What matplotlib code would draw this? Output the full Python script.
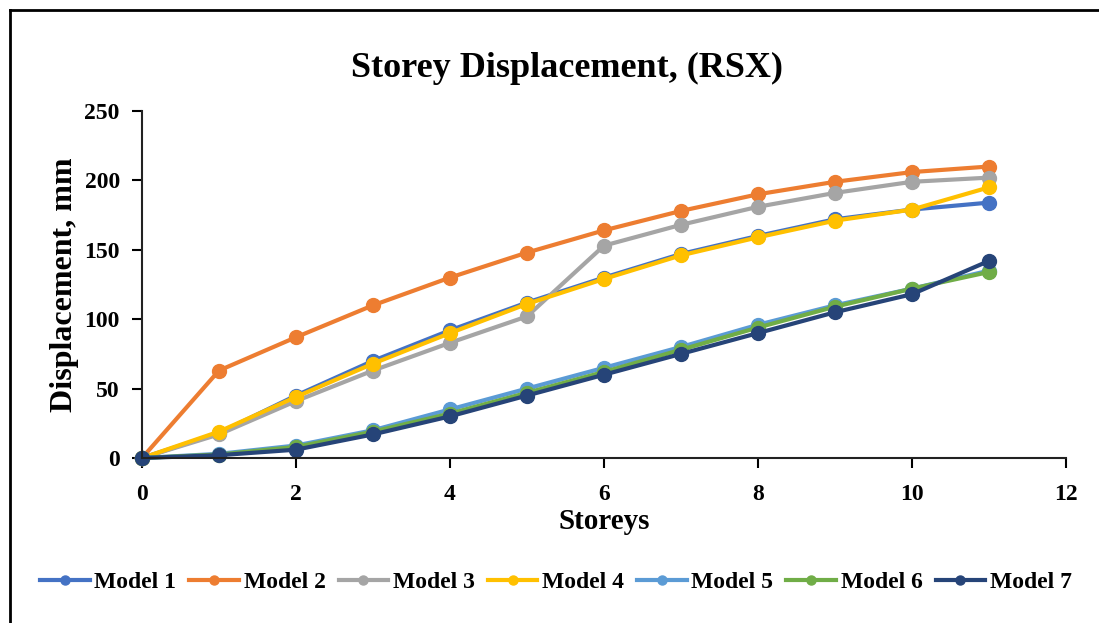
import matplotlib
matplotlib.use("Agg")
import matplotlib.pyplot as plt

storeys = [0, 1, 2, 3, 4, 5, 6, 7, 8, 9, 10, 11]
model_1 = [0, 18, 45, 70, 92, 112, 130, 147, 160, 172, 179, 184]
model_2 = [0, 63, 87, 110, 130, 148, 164, 178, 190, 199, 206, 210]
model_3 = [0, 17, 41, 63, 83, 102, 153, 168, 181, 191, 199, 202]
model_4 = [0, 19, 44, 68, 90, 111, 129, 146, 159, 171, 179, 195]
model_5 = [0, 3, 9, 20, 35, 50, 65, 80, 96, 110, 122, 135]
model_6 = [0, 2.5, 8, 19, 32, 47, 62, 78, 94, 109, 122, 134]
model_7 = [0, 2, 6, 17, 30, 45, 60, 75, 90, 105, 118, 142]

series = [
    ("Model 1", model_1, "#4472C4"),
    ("Model 2", model_2, "#ED7D31"),
    ("Model 3", model_3, "#A5A5A5"),
    ("Model 4", model_4, "#FFC000"),
    ("Model 5", model_5, "#5B9BD5"),
    ("Model 6", model_6, "#70AD47"),
    ("Model 7", model_7, "#264478"),
]

plt.rcParams["font.family"] = ["Liberation Serif", "DejaVu Serif"]
plt.rcParams["font.weight"] = "bold"

fig = plt.figure(figsize=(10.99, 6.23), dpi=100)
ax = fig.add_axes([142 / 1099, 1 - 458 / 623, (1066 - 142) / 1099, (458 - 111) / 623])

for name, vals, col in series:
    ax.plot(storeys, vals, color=col, linewidth=3, marker="o", markersize=10,
            label=name, clip_on=False)

ax.set_xlim(0, 12)
ax.set_ylim(0, 250)
ax.set_xticks(range(0, 13, 2))
ax.set_yticks(range(0, 251, 50))
ax.spines["top"].set_visible(False)
ax.spines["right"].set_visible(False)
for s in ["left", "bottom"]:
    ax.spines[s].set_color("#222222")
    ax.spines[s].set_linewidth(1.5)
ax.tick_params(direction="out", length=7, width=1.5, labelsize=17)
ax.tick_params(axis="x", pad=12)
ax.tick_params(axis="y", pad=9)
for lbl in ax.get_xticklabels() + ax.get_yticklabels():
    lbl.set_fontweight("bold")

ax.set_xlabel("Storeys", fontsize=21, fontweight="bold", labelpad=2)
ax.set_ylabel("Displacement, mm", fontsize=23, fontweight="bold", labelpad=4)
fig.text(567 / 1099, 1 - 68 / 623, "Storey Displacement, (RSX)", ha="center", va="center",
         fontsize=26, fontweight="bold")

fig.legend(loc="center", bbox_to_anchor=(556 / 1099, 1 - 582 / 623), ncol=7, frameon=False,
           handlelength=2.1, handletextpad=0.2, columnspacing=0.55, markerscale=0.65,
           prop={"weight": "bold", "size": 17})

# outer chart border (only left and top edges visible in the crop)
fig.add_artist(plt.Line2D([10 / 1099, 10 / 1099], [0, 1 - 10 / 623],
                          transform=fig.transFigure, color="black", linewidth=2))
fig.add_artist(plt.Line2D([10 / 1099, 1], [1 - 10 / 623, 1 - 10 / 623],
                          transform=fig.transFigure, color="black", linewidth=2))

fig.savefig("out.png", dpi=100)
